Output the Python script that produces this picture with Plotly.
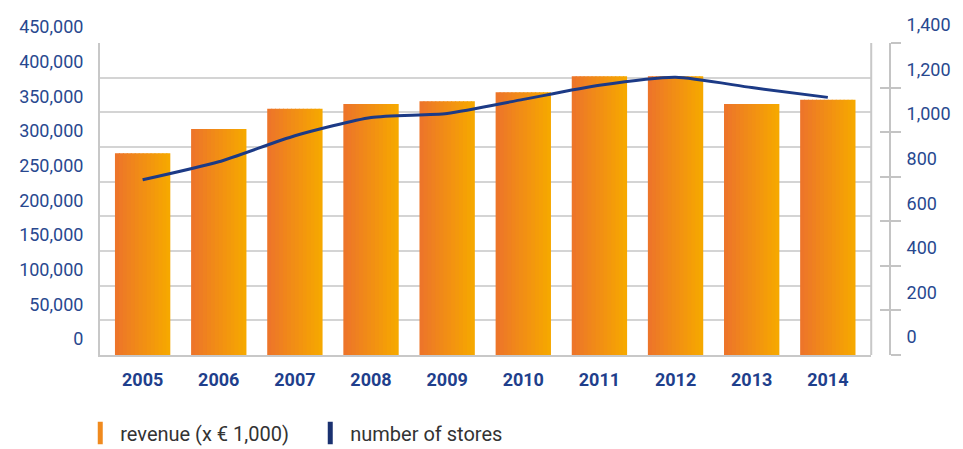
import plotly.graph_objects as go

years = ["2005", "2006", "2007", "2008", "2009", "2010", "2011", "2012", "2013", "2014"]
revenue = [291000, 326000, 355000, 362000, 366000, 379000, 402000, 402000, 362000, 368000]
stores = [786, 867, 984, 1066, 1084, 1147, 1210, 1246, 1200, 1156]
left_ticks = [0, 50000, 100000, 150000, 200000, 250000, 300000, 350000, 400000, 450000]
right_ticks = [0, 200, 400, 600, 800, 1000, 1200, 1400]

BLUE_TXT = "#28488f"
NAVY = "#1c3a86"
GRID = "#d4d4d4"
FONT = "Roboto"

xs = list(range(len(years)))

def lerp(c1, c2, t):
    a = [int(c1[i:i + 2], 16) for i in (1, 3, 5)]
    b = [int(c2[i:i + 2], 16) for i in (1, 3, 5)]
    return "#" + "".join(f"{round(a[k] + (b[k] - a[k]) * t):02x}" for k in range(3))

fig = go.Figure()

# gradient bars built from several thin slices
N = 14
W = 0.727
sw = W / N
for i in range(N):
    col = lerp("#ed7529", "#f6a800", i / (N - 1))
    width = sw * (1.25 if i < N - 1 else 1.0)
    fig.add_trace(go.Bar(
        x=xs, y=revenue, width=[width] * len(xs), offset=-W / 2 + i * sw,
        marker=dict(color=col, line=dict(width=0)),
        showlegend=False, hoverinfo="skip", xaxis="x", yaxis="y"))

fig.add_trace(go.Scatter(
    x=xs, y=stores, mode="lines", line=dict(color=NAVY, width=3, shape="spline", smoothing=0.6),
    showlegend=False, xaxis="x", yaxis="y2"))

# legend entries
fig.add_trace(go.Scatter(x=[None], y=[None], mode="markers", name="revenue (x € 1,000)",
                         marker=dict(symbol="line-ns", size=22, line=dict(width=8, color="#f08a1e"))))
fig.add_trace(go.Scatter(x=[None], y=[None], mode="markers", name="number of stores",
                         marker=dict(symbol="line-ns", size=22, line=dict(width=8, color="#1a3170"))))

fig.update_layout(
    width=963, height=449,
    margin=dict(l=100, r=64, t=43, b=94),
    paper_bgcolor="white", plot_bgcolor="white",
    barmode="overlay",
    font=dict(family=FONT, color=BLUE_TXT),
    xaxis=dict(domain=[0, 780 / 799], range=[-0.56, 9.57], tickmode="array", tickvals=xs,
               ticktext=years, showgrid=False, zeroline=False, showline=True,
               linecolor="#c8c8c8", linewidth=2, ticks="", ticklabelstandoff=7,
               tickfont=dict(family=FONT, size=18, color="#1f3f8c", weight="bold")),
    yaxis=dict(range=[0, 450000], tickmode="array", tickvals=left_ticks, tickformat=",",
               showgrid=True, gridcolor=GRID, gridwidth=2, zeroline=False,
               showline=True, linecolor="#c8c8c8", linewidth=2, ticks="",
               ticklabelshift=-16, ticklabelstandoff=11,
               tickfont=dict(family=FONT, size=18, color=BLUE_TXT)),
    yaxis2=dict(range=[0, 1400], tickmode="array", tickvals=right_ticks, tickformat=",",
                overlaying="y", side="right", anchor="free", position=1.0,
                showgrid=False, zeroline=False, showline=True, linecolor="#c4c4c4", linewidth=2,
                ticks="outside", ticklen=10, tickwidth=2, tickcolor="#c4c4c4",
                ticklabelshift=-18, ticklabelstandoff=2,
                tickfont=dict(family=FONT, size=18, color=BLUE_TXT)),
    yaxis3=dict(range=[0, 1400], tickmode="array", tickvals=right_ticks,
                overlaying="y", side="right", anchor="free", position=1.0,
                showgrid=False, zeroline=False, showline=False, showticklabels=False,
                ticks="inside", ticklen=10, tickwidth=2, tickcolor="#c4c4c4"),
    legend=dict(orientation="h", x=-0.025, xanchor="left",
                yref="container", y=1 - 433 / 449, yanchor="middle",
                font=dict(family=FONT, size=20, color="#333333"), entrywidth=185,
                itemsizing="trace", bgcolor="rgba(0,0,0,0)"),
    shapes=[dict(type="line", xref="x domain", yref="y domain", x0=1, x1=1, y0=0, y1=1,
                 line=dict(color="#c8c8c8", width=2))],
)

# dummy trace so yaxis3 renders
fig.add_trace(go.Scatter(x=[None], y=[None], yaxis="y3", showlegend=False, hoverinfo="skip"))

fig.write_html("out.html")
